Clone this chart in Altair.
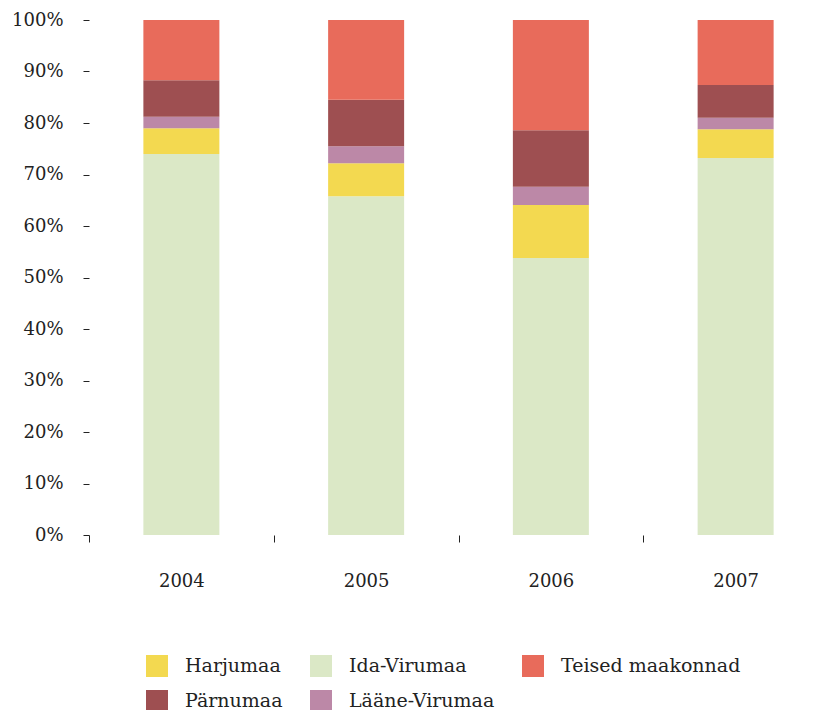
import altair as alt
import pandas as pd

years = ["2004", "2005", "2006", "2007"]
regions = ["Ida-Virumaa", "Harjumaa", "Lääne-Virumaa", "Pärnumaa", "Teised maakonnad"]
ida = [74.0, 65.8, 53.8, 73.2]
harju = [5.0, 6.4, 10.3, 5.6]
laane = [2.2, 3.3, 3.5, 2.2]
parnu = [7.1, 9.0, 11.0, 6.4]
teised = [11.7, 15.5, 21.4, 12.6]

legend_order = ["Harjumaa", "Ida-Virumaa", "Teised maakonnad", "Pärnumaa", "Lääne-Virumaa"]
colors = ["#F3D950", "#DBE8C6", "#E86B5B", "#9E4F51", "#BC88A7"]

series = [ida, harju, laane, parnu, teised]
rows = []
for ri, (name, vals) in enumerate(zip(regions, series)):
    for y, v in zip(years, vals):
        rows.append({"year": y, "region": name, "value": v, "order": ri})
df = pd.DataFrame(rows)

FONT = "DejaVu Serif"

chart = alt.Chart(df).mark_bar(size=76).encode(
    x=alt.X("year:N", title=None, sort=years,
            scale=alt.Scale(paddingInner=0, paddingOuter=0, range=[0, 739]),
            axis=alt.Axis(labelAngle=0, domain=False, tickBand="extent", tickSize=7,
                          tickColor="#222", labelPadding=30, labelFontSize=18,
                          labelFont=FONT, labelColor="#222")),
    y=alt.Y("value:Q", stack="normalize", title=None,
            scale=alt.Scale(domain=[0, 1]),
            axis=alt.Axis(format=".0%", values=[i / 10 for i in range(11)], domain=False,
                          grid=False, tickSize=6, tickColor="#222", labelPadding=20,
                          labelFontSize=18, labelFont=FONT, labelColor="#222")),
    color=alt.Color("region:N", sort=legend_order,
                    scale=alt.Scale(domain=legend_order, range=colors),
                    legend=alt.Legend(title=None, orient="none", legendX=57, legendY=635,
                                      direction="horizontal", columns=3, padding=0,
                                      symbolType="square", symbolSize=484,
                                      symbolStrokeWidth=0, labelFontSize=19, labelFont=FONT,
                                      labelColor="#222", labelOffset=17, labelLimit=400,
                                      columnPadding=27, rowPadding=13)),
    order=alt.Order("order:Q", sort="ascending"),
).properties(
    width=726, height=515,
    autosize=alt.AutoSizeParams(type="none"),
    padding={"left": 81, "top": 12, "right": 0, "bottom": 175}
).configure_view(stroke=None)

chart.save("out.html", embed_options={"renderer": "svg", "actions": False})
